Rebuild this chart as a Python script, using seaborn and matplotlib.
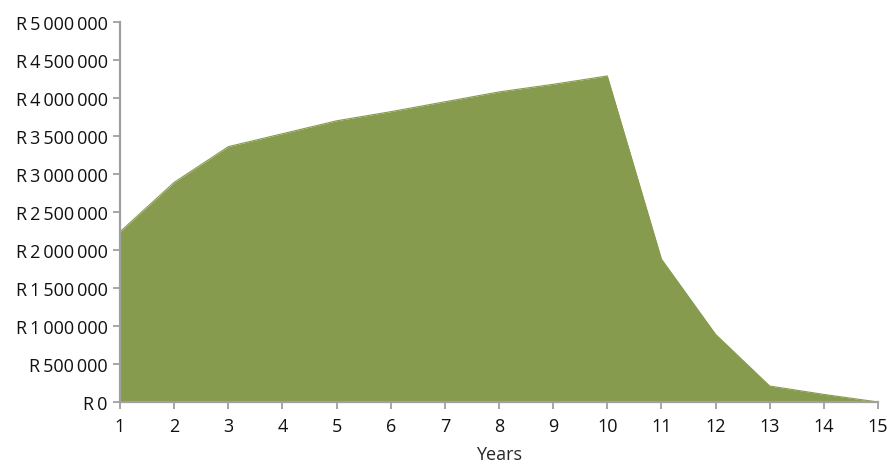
import matplotlib
matplotlib.use("Agg")
import matplotlib.pyplot as plt
import matplotlib.ticker as mticker
import seaborn as sns
import pandas as pd

# Fund balance per year (rand)
years = [1, 2, 3, 4, 5, 6, 7, 8, 9, 10, 11, 12, 13, 14, 15]
balance = [2240000, 2890000, 3360000, 3530000, 3700000, 3820000, 3950000,
           4080000, 4180000, 4290000, 1880000, 890000, 210000, 100000, 0]
y_ticks = [0, 500000, 1000000, 1500000, 2000000, 2500000, 3000000,
           3500000, 4000000, 4500000, 5000000]
x_label = "Years"

df = pd.DataFrame({"year": years, "balance": balance})

sns.set_style("white")
plt.rcParams["font.family"] = ["Open Sans", "DejaVu Sans"]

FILL = "#879b4e"
AXIS = "#a0a0a0"

fig = plt.figure(figsize=(8.91, 4.64), dpi=100)
ax = fig.add_axes([120 / 891, 61 / 464, 758 / 891, 380 / 464])

sns.lineplot(data=df, x="year", y="balance", ax=ax, color=FILL,
             linewidth=0.8, zorder=1)
ax.fill_between(df["year"], df["balance"], 0, color=FILL, linewidth=0,
                zorder=2)

ax.set_xlim(1, 15)
ax.set_ylim(0, 5000000)
ax.set_xticks(years)
ax.set_yticks(y_ticks)


def rand_fmt(v, _pos):
    s = f"{int(round(v)):,}".replace(",", "\u2009")
    return "R\u2009" + s


ax.yaxis.set_major_formatter(mticker.FuncFormatter(rand_fmt))
ax.set_xlabel(x_label, fontsize=13, labelpad=7)
ax.set_ylabel("")

for side in ("top", "right"):
    ax.spines[side].set_visible(False)
for side in ("left", "bottom"):
    ax.spines[side].set_color(AXIS)
    ax.spines[side].set_linewidth(1.6)
    ax.spines[side].set_zorder(3)

ax.tick_params(axis="both", which="major", length=5, width=1.3, color=AXIS,
               labelsize=13, labelcolor="#111111", direction="out")
ax.tick_params(axis="x", pad=6)
ax.tick_params(axis="y", pad=4)
ax.tick_params(bottom=True, left=True)

fig.savefig("out.png", dpi=100)
